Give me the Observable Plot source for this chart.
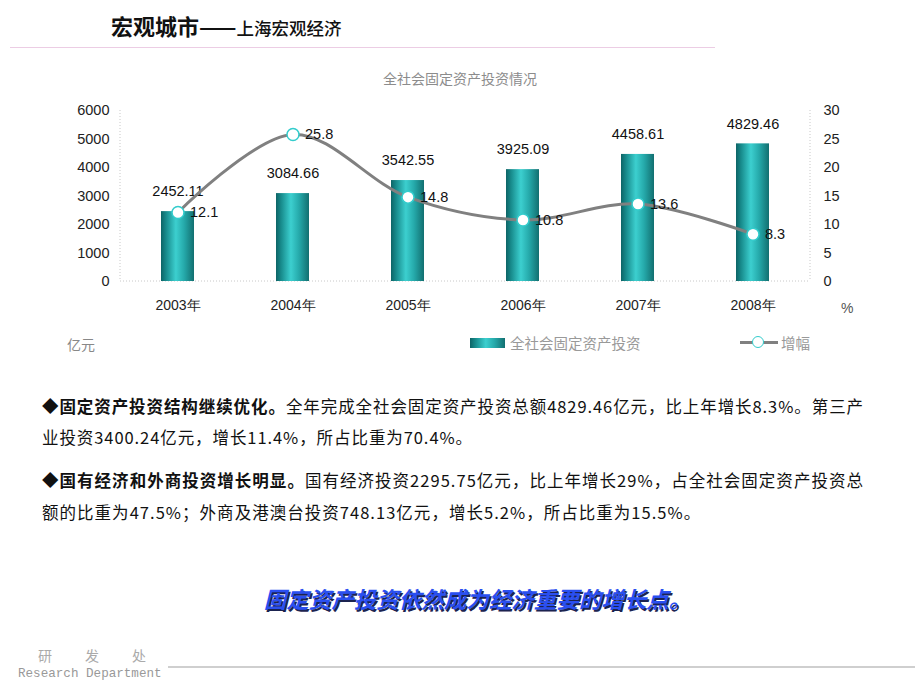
<!DOCTYPE html>
<html><head><meta charset="utf-8">
<script src="https://cdn.jsdelivr.net/npm/d3@7"></script>
<script src="https://cdn.jsdelivr.net/npm/@observablehq/plot@0.6"></script>
<style>
body{margin:0;background:#fff;width:920px;height:690px;position:relative;overflow:hidden;font-family:"Noto Sans CJK SC",sans-serif}
.abs{position:absolute;white-space:nowrap}
#chart{position:absolute;left:0;top:60px;width:920px;height:300px}
.para{font-size:16.5px;line-height:22px;color:#111;left:42px}
.para b{font-weight:700}
</style></head><body>
<div id="chart"></div>

<div class="abs" style="left:111px;top:9px;line-height:32px;color:#111">
  <span style="font-size:22px;font-weight:700">宏观城市——</span><span style="font-size:17.5px;font-weight:500">上海宏观经济</span>
</div>
<div class="abs" style="left:10px;top:47px;width:705px;height:1px;background:#eccde4"></div>

<div class="abs" style="left:0;width:920px;text-align:center;top:68px;font-size:14px;color:#8c8c8c;line-height:20px">全社会固定资产投资情况</div>
<div class="abs" style="left:841px;top:300px;font-size:14px;color:#555;font-family:'Liberation Sans',Arial">%</div>
<div class="abs" style="left:67px;top:334px;font-size:14px;color:#888;line-height:20px">亿元</div>
<div class="abs" style="left:470px;top:338px;width:35px;height:10px;background:linear-gradient(to right,#0d6466,#178a8b 15%,#3ccfcf 45%,#25a9aa 70%,#126f70)"></div>
<div class="abs" style="left:510px;top:333px;font-size:14.5px;color:#999;line-height:20px">全社会固定资产投资</div>
<div class="abs" style="left:740px;top:341px;width:38px;height:3px;background:#808080"></div>
<div class="abs" style="left:752px;top:336px;width:10px;height:10px;border:1.5px solid #33cccc;border-radius:50%;background:#fff"></div>
<div class="abs" style="left:781px;top:333px;font-size:14.5px;color:#999;line-height:20px">增幅</div>

<div class="abs para" id="p1" style="top:395px"><b>◆固定资产投资结构继续优化。</b>全年完成全社会固定资产投资总额4829.46亿元，比上年增长8.3%。第三产</div>
<div class="abs para" id="p2" style="top:426px">业投资3400.24亿元，增长11.4%，所占比重为70.4%。</div>
<div class="abs para" id="p3" style="top:469px"><b>◆国有经济和外商投资增长明显。</b>国有经济投资2295.75亿元，比上年增长29%，占全社会固定资产投资总</div>
<div class="abs para" id="p4" style="top:501px">额的比重为47.5%；外商及港澳台投资748.13亿元，增长5.2%，所占比重为15.5%。</div>

<div class="abs" style="left:0;width:955px;text-align:center;top:583px;font-size:22.5px;font-weight:700;font-style:italic;color:#2a4ff0;text-shadow:1.5px 1.5px 0 #1b2350;line-height:30px">固定资产投资依然成为经济重要的增长点。</div>

<div class="abs" style="left:38px;top:645px;font-size:14px;color:#aaa;letter-spacing:33px;line-height:20px">研发处</div>
<div class="abs" style="left:18px;top:665px;font-size:12.6px;color:#999;font-family:'Liberation Mono',monospace;line-height:18px">Research Department</div>
<div class="abs" style="left:168px;top:666px;width:747px;height:2px;background:#cfcfcf"></div>

<script>
const years = ["2003", "2004", "2005", "2006", "2007", "2008"];
const investment = [2452.11, 3084.66, 3542.55, 3925.09, 4458.61, 4829.46];
const growth = [12.1, 25.8, 14.8, 10.8, 13.6, 8.3];
const leftTicks = [0, 1000, 2000, 3000, 4000, 5000, 6000];
const rightTicks = [0, 5, 10, 15, 20, 25, 30];
const ratio = 6000 / 30;

const data = years.map((year, i) => ({year, value: investment[i], growth: growth[i]}));

const ns = "http://www.w3.org/2000/svg";
const defsMark = () => {
  const g = document.createElementNS(ns, "g");
  g.innerHTML = `<defs><linearGradient id="barGrad" x1="0" x2="1" y1="0" y2="0">
    <stop offset="0" stop-color="#0d6466"/>
    <stop offset="0.15" stop-color="#178a8b"/>
    <stop offset="0.45" stop-color="#3ccfcf"/>
    <stop offset="0.7" stop-color="#25a9aa"/>
    <stop offset="1" stop-color="#126f70"/>
  </linearGradient></defs>`;
  return g;
};
const frameLines = (index, scales, values, dim) => {
  const g = document.createElementNS(ns, "g");
  const L = dim.marginLeft, R = dim.width - dim.marginRight, T = dim.marginTop, B = dim.height - dim.marginBottom;
  const lines = [[L, T, L, B], [R, T, R, B], [L, B, R, B]];
  for (const [x1, y1, x2, y2] of lines) {
    const l = document.createElementNS(ns, "line");
    l.setAttribute("x1", x1); l.setAttribute("y1", y1); l.setAttribute("x2", x2); l.setAttribute("y2", y2);
    l.setAttribute("stroke", "#c8c8c8"); l.setAttribute("stroke-dasharray", "1,2");
    g.appendChild(l);
  }
  return g;
};

const chart = Plot.plot({
  width: 920, height: 300,
  marginLeft: 120, marginRight: 110, marginTop: 50, marginBottom: 79,
  x: {domain: years, paddingInner: 0.71, paddingOuter: 0.355, align: 0.5},
  y: {domain: [0, 6000]},
  style: {fontFamily: "'Liberation Sans', Arial, sans-serif", fontSize: "14px", color: "#222", background: "none", overflow: "visible"},
  marks: [
    defsMark,
    frameLines,
    Plot.axisY(leftTicks, {anchor: "left", tickSize: 0, tickPadding: 11, label: null, tickFormat: d => String(d), fontSize: 14.5}),
    Plot.axisY(rightTicks.map(d => d * ratio), {anchor: "right", tickSize: 0, tickPadding: 13, label: null, tickFormat: d => String(d / ratio), fontSize: 14.5}),
    Plot.axisX({tickSize: 0, tickPadding: 19, label: null, tickFormat: d => d + "年", fontSize: 14}),
    Plot.barY(data, {x: "year", y: "value", fill: "url(#barGrad)"}),
    Plot.text(data, {x: "year", y: "value", text: d => d.value.toFixed(2), dy: -20, fontSize: 14.5, fill: "#111"}),
    Plot.line(data, {x: "year", y: d => d.growth * ratio, curve: "catmull-rom", stroke: "#808080", strokeWidth: 3}),
    Plot.dot(data, {x: "year", y: d => d.growth * ratio, r: 6, fill: "white", stroke: "#33cccc", strokeWidth: 1.5}),
    Plot.text(data, {x: "year", y: d => d.growth * ratio, text: d => String(d.growth), dx: 12, textAnchor: "start", fontSize: 14.5, fill: "#111"})
  ]
});
document.getElementById("chart").appendChild(chart);

// fit paragraph lines to the reference width
function fit(id, target) {
  const el = document.getElementById(id);
  const w = el.getBoundingClientRect().width;
  const n = el.textContent.length;
  const ls = (target - w) / n;
  el.style.letterSpacing = ls + "px";
  return ls;
}
const ls1 = fit("p1", 822);
document.getElementById("p2").style.letterSpacing = ls1 + "px";
const ls3 = fit("p3", 822);
document.getElementById("p4").style.letterSpacing = ls3 + "px";
</script>
</body></html>
